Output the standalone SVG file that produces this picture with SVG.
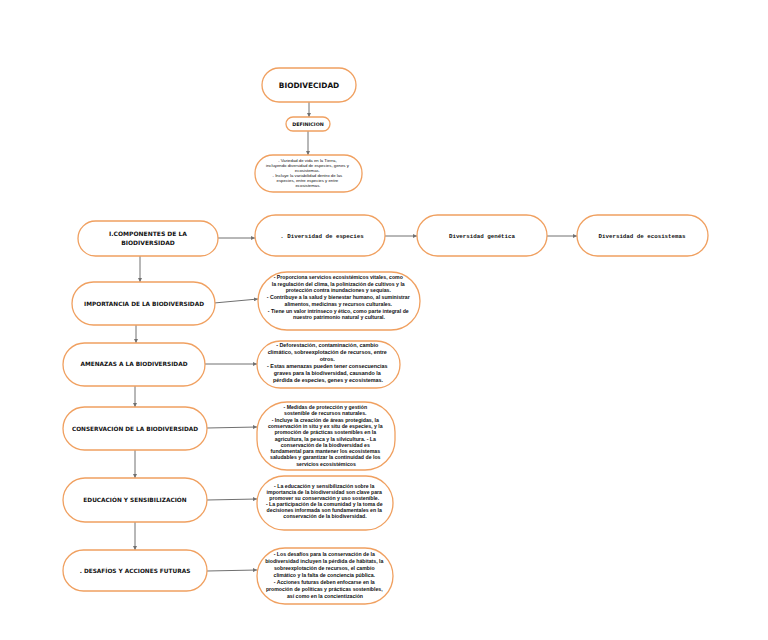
<svg xmlns="http://www.w3.org/2000/svg" width="768" height="640" viewBox="0 0 768 640">
<style>
.n{fill:#fff;stroke:#F0A060;stroke-width:1.3}
.t{font-family:"DejaVu Sans",sans-serif;font-weight:bold;fill:#111;text-anchor:middle}
.m{font-family:"Liberation Mono",monospace;font-weight:bold;fill:#111;text-anchor:middle;font-size:5.8px}
.b{font-family:"Liberation Sans",Arial,sans-serif;font-weight:bold;fill:#111;text-anchor:middle;font-size:5.2px}
.c{stroke:#707070;stroke-width:1;fill:none;marker-end:url(#a)}
</style>
<defs>
<marker id="a" viewBox="0 0 6 6" refX="6" refY="3" markerWidth="4" markerHeight="4" orient="auto" markerUnits="userSpaceOnUse">
<path d="M0,0 L6,3 L0,6 z" fill="#707070"/>
</marker>
</defs>
<rect width="768" height="640" fill="#fff"/>
<g id="connectors">
<line class="c" x1="309" y1="102" x2="309" y2="117"/>
<line class="c" x1="308" y1="131" x2="308" y2="155"/>
<line class="c" x1="218" y1="238" x2="255" y2="238"/>
<line class="c" x1="385" y1="236" x2="417" y2="236"/>
<line class="c" x1="547" y1="236" x2="577" y2="236"/>
<line class="c" x1="140" y1="256" x2="140" y2="282"/>
<line class="c" x1="136" y1="325" x2="136" y2="343"/>
<line class="c" x1="135" y1="386" x2="135" y2="407"/>
<line class="c" x1="135" y1="450" x2="135" y2="478"/>
<line class="c" x1="135" y1="522" x2="135" y2="550"/>
<line class="c" x1="214" y1="303" x2="258" y2="299"/>
<line class="c" x1="205" y1="364" x2="257" y2="364"/>
<line class="c" x1="207" y1="428" x2="257" y2="427"/>
<line class="c" x1="207" y1="500" x2="257" y2="499"/>
<line class="c" x1="207" y1="571" x2="257" y2="570"/>
</g>
<g id="biodivecidad">
<rect class="n" x="262" y="68" width="94" height="34" rx="17"/>
<text class="t" x="309" y="88" font-size="7.4">BIODIVECIDAD</text>
</g>
<g id="definicion">
<rect class="n" x="286" y="117" width="44" height="14" rx="7"/>
<text class="t" x="308" y="126" font-size="4.8">DEFINICION</text>
</g>
<g id="definicion-texto">
<rect class="n" x="255" y="155" width="107" height="37" rx="18"/>
<text class="b" font-size="4.3" style="font-weight:normal;font-size:4.3px">
<tspan x="308" y="162">- Variedad de vida en la Tierra,</tspan>
<tspan x="308" y="167">incluyendo diversidad de especies, genes y</tspan>
<tspan x="308" y="172">ecosistemas.</tspan>
<tspan x="308" y="177">- Incluye la variabilidad dentro de las</tspan>
<tspan x="308" y="182">especies, entre especies y entre</tspan>
<tspan x="308" y="187">ecosistemas.</tspan>
</text>
</g>
<g id="componentes">
<rect class="n" x="78" y="221" width="140" height="35" rx="17.5"/>
<text class="t" font-size="6"><tspan x="148" y="236">I.COMPONENTES DE LA</tspan><tspan x="148" y="245">BIODIVERSIDAD</tspan></text>
</g>
<g id="especies">
<rect class="n" x="255" y="215" width="130" height="41" rx="20.5"/>
<text class="m" x="322" y="238">. Diversidad de especies</text>
</g>
<g id="genetica">
<rect class="n" x="417" y="215" width="130" height="41" rx="20.5"/>
<text class="m" x="482" y="238">Diversidad genética</text>
</g>
<g id="ecosistemas">
<rect class="n" x="577" y="215" width="131" height="41" rx="20.5"/>
<text class="m" x="642" y="238">Diversidad de ecosistemas</text>
</g>
<g id="importancia">
<rect class="n" x="72" y="282" width="143" height="43" rx="21.5"/>
<text class="t" x="144" y="306" font-size="5.8">IMPORTANCIA DE LA BIODIVERSIDAD</text>
</g>
<g id="importancia-texto">
<rect class="n" x="258" y="272" width="162" height="58" rx="29"/>
<text class="b">
<tspan x="339" y="279">- Proporciona servicios ecosistémicos vitales, como</tspan>
<tspan x="339" y="285.7">la regulación del clima, la polinización de cultivos y la</tspan>
<tspan x="339" y="292.4">protección contra inundaciones y sequías.</tspan>
<tspan x="339" y="299.1">- Contribuye a la salud y bienestar humano, al suministrar</tspan>
<tspan x="339" y="305.8">alimentos, medicinas y recursos culturales.</tspan>
<tspan x="339" y="312.5">- Tiene un valor intrínseco y ético, como parte integral de</tspan>
<tspan x="339" y="319.2">nuestro patrimonio natural y cultural.</tspan>
</text>
</g>
<g id="amenazas">
<rect class="n" x="63" y="343" width="142" height="43" rx="21.5"/>
<text class="t" x="134" y="366" font-size="5.8">AMENAZAS A LA BIODIVERSIDAD</text>
</g>
<g id="amenazas-texto">
<rect class="n" x="257" y="341" width="143" height="47" rx="23.5"/>
<text class="b" style="font-size:5.4px">
<tspan x="328" y="347">- Deforestación, contaminación, cambio</tspan>
<tspan x="328" y="354">climático, sobreexplotación de recursos, entre</tspan>
<tspan x="328" y="361">otros.</tspan>
<tspan x="328" y="368">- Estas amenazas pueden tener consecuencias</tspan>
<tspan x="328" y="375">graves para la biodiversidad, causando la</tspan>
<tspan x="328" y="382">pérdida de especies, genes y ecosistemas.</tspan>
</text>
</g>
<g id="conservacion">
<rect class="n" x="63" y="407" width="144" height="43" rx="21.5"/>
<text class="t" x="135" y="431" font-size="5.8">CONSERVACIÓN DE LA BIODIVERSIDAD</text>
</g>
<g id="conservacion-texto">
<rect class="n" x="257" y="402" width="138" height="68" rx="30"/>
<text class="b">
<tspan x="326" y="409">- Medidas de protección y gestión</tspan>
<tspan x="326" y="415.3">sostenible de recursos naturales.</tspan>
<tspan x="326" y="421.6">- Incluye la creación de áreas protegidas, la</tspan>
<tspan x="326" y="427.9">conservación in situ y ex situ de especies, y la</tspan>
<tspan x="326" y="434.2">promoción de prácticas sostenibles en la</tspan>
<tspan x="326" y="440.5">agricultura, la pesca y la silvicultura. - La</tspan>
<tspan x="326" y="446.8">conservación de la biodiversidad es</tspan>
<tspan x="326" y="453.1">fundamental para mantener los ecosistemas</tspan>
<tspan x="326" y="459.4">saludables y garantizar la continuidad de los</tspan>
<tspan x="326" y="465.7">servicios ecosistémicos</tspan>
</text>
</g>
<g id="educacion">
<rect class="n" x="63" y="478" width="144" height="44" rx="22"/>
<text class="t" x="135" y="502" font-size="5.8">EDUCACIÓN Y SENSIBILIZACIÓN</text>
</g>
<g id="educacion-texto">
<rect class="n" x="257" y="476" width="136" height="54" rx="27"/>
<text class="b">
<tspan x="325" y="488">- La educación y sensibilización sobre la</tspan>
<tspan x="325" y="494">importancia de la biodiversidad son clave para</tspan>
<tspan x="325" y="500">promover su conservación y uso sostenible.</tspan>
<tspan x="325" y="506">- La participación de la comunidad y la toma de</tspan>
<tspan x="325" y="512">decisiones informada son fundamentales en la</tspan>
<tspan x="325" y="518">conservación de la biodiversidad.</tspan>
</text>
</g>
<g id="desafios">
<rect class="n" x="63" y="550" width="144" height="41" rx="20.5"/>
<text class="t" x="135" y="573" font-size="5.8">. DESAFÍOS Y ACCIONES FUTURAS</text>
</g>
<g id="desafios-texto">
<rect class="n" x="257" y="548" width="136" height="56" rx="28"/>
<text class="b">
<tspan x="325" y="556">- Los desafíos para la conservación de la</tspan>
<tspan x="325" y="563">biodiversidad incluyen la pérdida de hábitats, la</tspan>
<tspan x="325" y="570">sobreexplotación de recursos, el cambio</tspan>
<tspan x="325" y="577">climático y la falta de conciencia pública.</tspan>
<tspan x="325" y="584">- Acciones futuras deben enfocarse en la</tspan>
<tspan x="325" y="591">promoción de políticas y prácticas sostenibles,</tspan>
<tspan x="325" y="598">así como en la concientización</tspan>
</text>
</g>
</svg>
